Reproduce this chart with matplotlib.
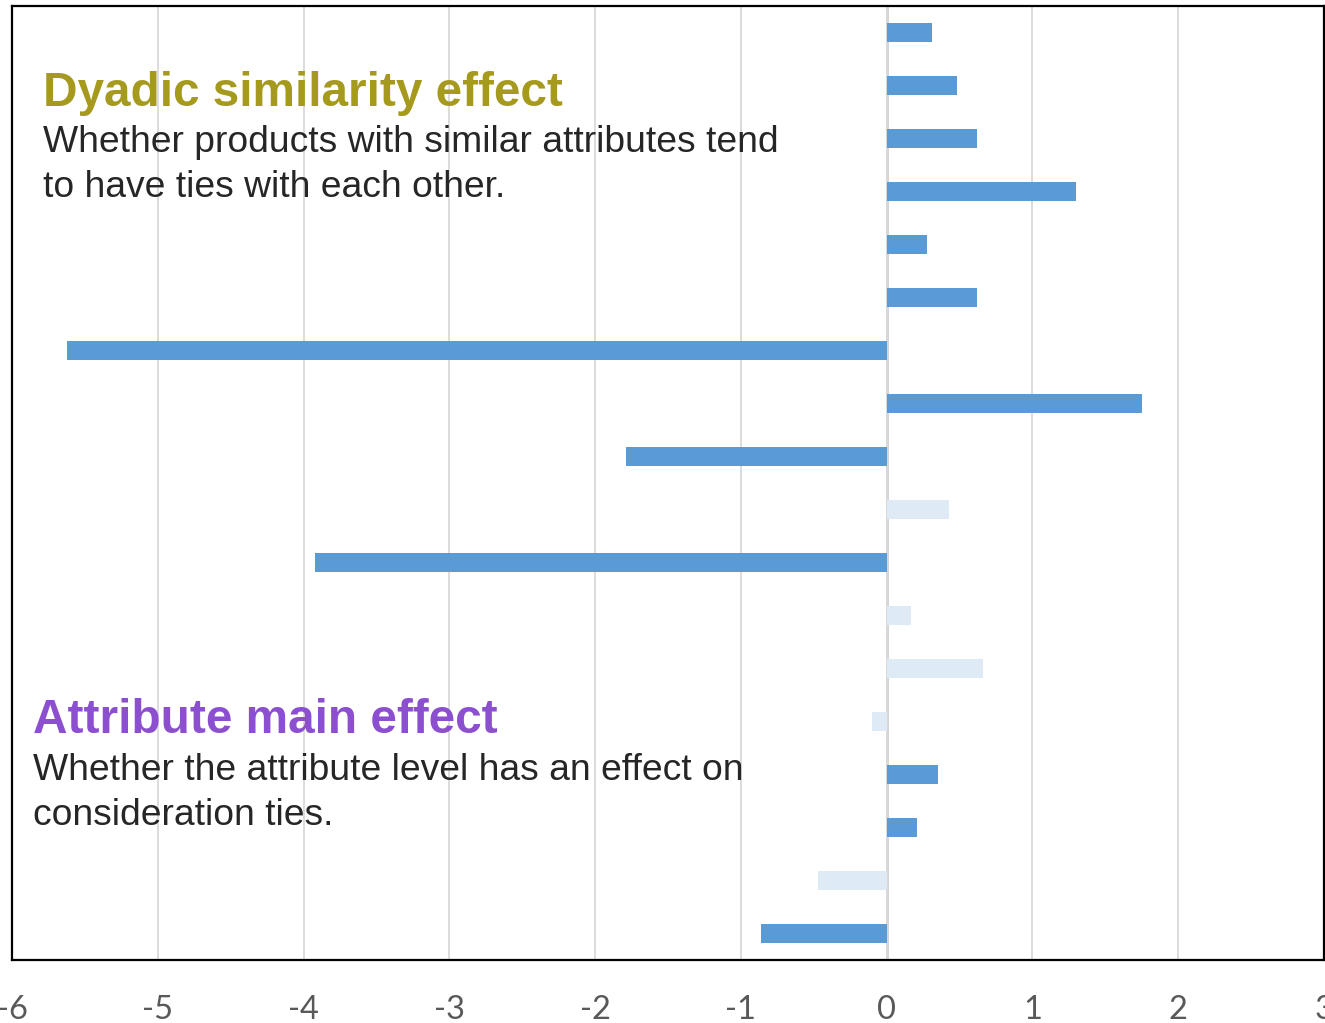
import matplotlib
matplotlib.use("Agg")
import matplotlib.pyplot as plt
import numpy as np

# Coefficient estimates, listed top to bottom
values = [0.31, 0.48, 0.62, 1.30, 0.28, 0.62, -5.62, 1.75, -1.79,
          0.43, -3.92, 0.17, 0.66, -0.10, 0.35, 0.21, -0.47, -0.86]
# Whether each estimate is significant (dark) or not (pale)
significant = [True, True, True, True, True, True, True, True, True,
               False, True, False, False, False, True, True, False, True]
x_ticks = [-6, -5, -4, -3, -2, -1, 0, 1, 2, 3]

dark_blue = "#5B9BD5"
pale_blue = "#DEEAF6"

fig = plt.figure(figsize=(13.25, 10.23), dpi=100)
W, H = 1325, 1023
ax = fig.add_axes([12 / W, (H - 960) / H, (1324 - 12) / W, (960 - 6) / H])

n = len(values)
y = np.arange(n)
colors = [dark_blue if s else pale_blue for s in significant]
ax.barh(y, values, height=0.36, color=colors, zorder=3)

ax.set_xlim(-6, 3)
ax.set_ylim(n - 0.5, -0.5)
ax.set_yticks([])
ax.set_xticks(x_ticks)
ax.set_xticklabels([str(t) for t in x_ticks])
ax.tick_params(axis="x", length=0, pad=25, labelsize=23.5, labelcolor="#595959")
for lab in ax.get_xticklabels():
    lab.set_family(["Lato", "DejaVu Sans"])
    lab.set_clip_on(False)

ax.grid(axis="x", color="#D9D9D9", linewidth=1.3, zorder=0)
ax.axvline(0, color="#D0D0D0", linewidth=2, zorder=1)
for sp in ax.spines.values():
    sp.set_color("black")
    sp.set_linewidth(1.6)

font = ["Liberation Sans", "DejaVu Sans"]
title_size = 34.4
body_size = 26.8
body_color = "#262626"


def put(x, y_base, s, **kw):
    fig.text(x / W, 1 - y_base / H, s, family=font, va="baseline", ha="left", **kw)


put(43, 106, "Dyadic similarity effect", fontsize=title_size,
    fontweight="bold", color="#A69A1E")
put(43, 152, "Whether products with similar attributes tend",
    fontsize=body_size, color=body_color)
put(43, 197, "to have ties with each other.",
    fontsize=body_size, color=body_color)

put(33, 733, "Attribute main effect", fontsize=title_size,
    fontweight="bold", color="#8B4FD0")
put(33, 780, "Whether the attribute level has an effect on",
    fontsize=body_size, color=body_color)
put(33, 825, "consideration ties.",
    fontsize=body_size, color=body_color)

fig.savefig("out.png", dpi=100)
